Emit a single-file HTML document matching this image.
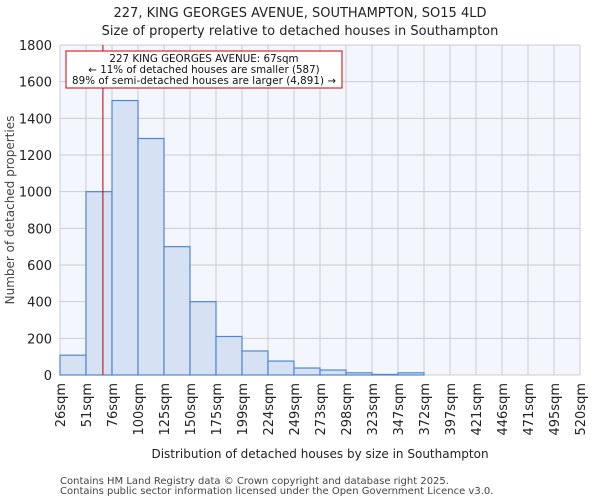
<!DOCTYPE html>
<html><head><meta charset="utf-8"><style>
body{margin:0;background:#fff;font-family:"DejaVu Sans","Liberation Sans",sans-serif;}
svg text{font-family:"DejaVu Sans","Liberation Sans",sans-serif;}
</style></head><body>
<svg id="chart" width="600" height="500" xmlns="http://www.w3.org/2000/svg">
<text x="300" y="17" text-anchor="middle" font-size="13" fill="#222">227, KING GEORGES AVENUE, SOUTHAMPTON, SO15 4LD</text>
<text x="300" y="35" text-anchor="middle" font-size="13" fill="#222">Size of property relative to detached houses in Southampton</text>
<rect x="60" y="45" width="520" height="330" fill="#f3f6fd"/>
<g id="grid"></g><g id="bars"></g><g id="ticks"></g>
<text transform="translate(14,210) rotate(-90)" text-anchor="middle" font-size="12" fill="#444">Number of detached properties</text>
<text x="320" y="458" text-anchor="middle" font-size="12" fill="#222">Distribution of detached houses by size in Southampton</text>
<text x="60" y="484" font-size="10" fill="#444">Contains HM Land Registry data © Crown copyright and database right 2025.</text>
<text x="60" y="494" font-size="10" fill="#444">Contains public sector information licensed under the Open Government Licence v3.0.</text>
<line id="marker" y1="45" y2="375" stroke="#b00" stroke-width="1"/>
<rect x="66" y="51" width="276" height="37" fill="#fff" stroke="#c00"/>
<text x="204" y="62" text-anchor="middle" font-size="10.3" fill="#111">227 KING GEORGES AVENUE: 67sqm</text>
<text x="204" y="73" text-anchor="middle" font-size="10.3" fill="#111">← 11% of detached houses are smaller (587)</text>
<text x="204" y="84" text-anchor="middle" font-size="10.3" fill="#111" textLength="264">89% of semi-detached houses are larger (4,891) →</text>
</svg>
<script>
const binLabels=["26sqm","51sqm","76sqm","100sqm","125sqm","150sqm","175sqm","199sqm","224sqm","249sqm","273sqm","298sqm","323sqm","347sqm","372sqm","397sqm","421sqm","446sqm","471sqm","495sqm","520sqm"];
const counts=[108,1000,1497,1290,700,400,210,131,76,38,27,12,3,12,0,0,0,0,0,0];
const yTicks=[0,200,400,600,800,1000,1200,1400,1600,1800];
const markerBin=1.65;
const NS="http://www.w3.org/2000/svg";
const x0=60,w=520,y0=375,h=330,yMax=1800;
const bw=w/counts.length;
const X=i=>x0+i*bw, Y=v=>y0-v/yMax*h;
function mk(t,a,p){const e=document.createElementNS(NS,t);for(const k in a)e.setAttribute(k,a[k]);p.appendChild(e);return e;}
const grid=document.getElementById('grid'),bars=document.getElementById('bars'),ticks=document.getElementById('ticks');
yTicks.forEach(v=>{
 const l=mk('line',{x1:x0,x2:x0+w,y1:Y(v),y2:Y(v),stroke:'#ccc'},grid);
 
 
 const t=mk('text',{x:52,y:Y(v)+5,'text-anchor':'end','font-size':13,fill:'#222'},ticks);
 t.textContent=v;
 
 
});
binLabels.forEach((s,i)=>{
 const l=mk('line',{x1:X(i),x2:X(i),y1:45,y2:y0,stroke:'#ccc'},grid);
 
 
 const t=mk('text',{transform:`translate(${X(i)+5},383) rotate(-90)`,'text-anchor':'end','font-size':13,fill:'#222'},ticks);
 t.textContent=s;
 
 
});
counts.forEach((c,i)=>{
 if(c<=0)return;
 const r=mk('rect',{x:X(i),y:Y(c),width:bw,height:y0-Y(c),fill:'#d6e1f3',stroke:'#4f86d4','stroke-width':1.2},bars);
 
 
});
const m=document.getElementById('marker');m.setAttribute('x1',X(markerBin));m.setAttribute('x2',X(markerBin));
</script>
</body></html>
